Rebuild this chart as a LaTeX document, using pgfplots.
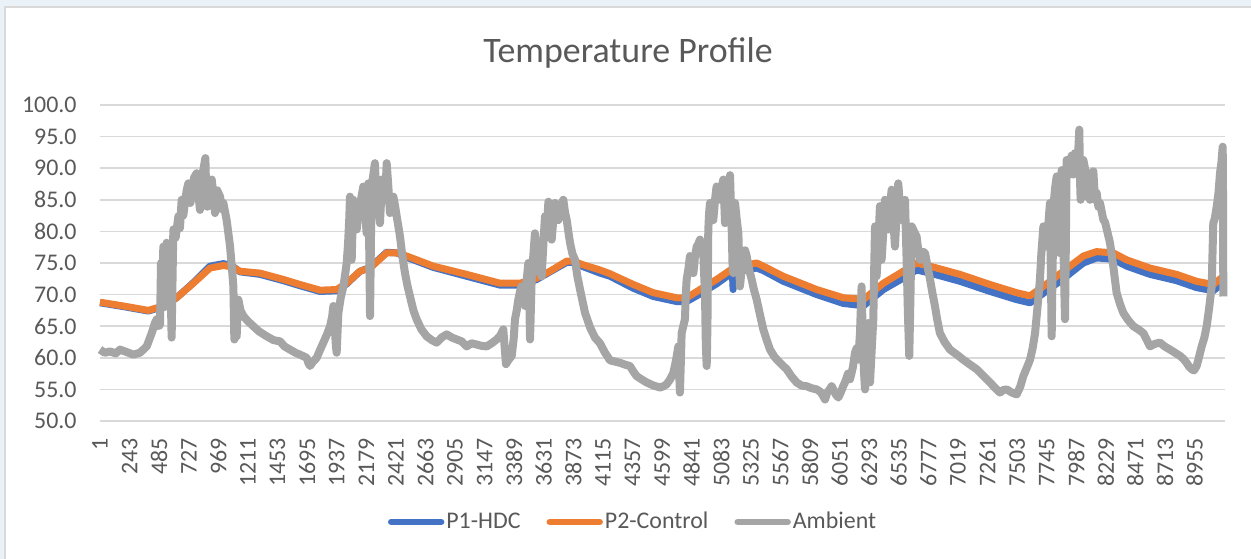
\documentclass[border=0pt]{standalone}
\usepackage{fontspec}
\setmainfont{Carlito}
\usepackage{pgfplots}
\pgfplotsset{compat=1.18}
\definecolor{hdc}{HTML}{4472C4}
\definecolor{ctl}{HTML}{ED7D31}
\definecolor{amb}{HTML}{A5A5A5}
\definecolor{txt}{HTML}{595959}
\definecolor{grd}{HTML}{D9D9D9}
\definecolor{slide}{HTML}{EAF1F7}
\begin{document}
\begin{tikzpicture}
\useasboundingbox (0,0) rectangle (625.5bp,279.5bp);
\clip (0,0) rectangle (625.5bp,279.5bp);
\fill[slide] (0,0) rectangle (625.5bp,279.5bp);
\filldraw[fill=white, draw=grd, line width=0.75bp] (2.5bp,-5bp) rectangle (630bp,276bp);
\node[font=\fontsize{18}{22}\selectfont, text=txt, anchor=base] at (314bp,248bp) {Temperature Profile};
\begin{axis}[
  at={(50bp,69bp)}, anchor=south west,
  scale only axis, width=562.5bp, height=158bp,
  xmin=1, xmax=9204, ymin=50, ymax=100,
  clip=false,
  xtick={1,243,...,8955},
  ytick={50,55,...,100},
  ymajorgrids, major grid style={grd, line width=0.75bp},
  axis line style={draw=none}, tick style={draw=none},
  /pgf/number format/assume math mode=true,
  tick label style={font=\fontsize{12}{14}\selectfont, text=txt},
  yticklabel style={/pgf/number format/.cd, fixed, fixed zerofill, precision=1, /tikz/.cd, inner sep=0pt, xshift=-11.5bp},
  xticklabel style={/pgf/number format/.cd, 1000 sep={}, /tikz/.cd, yshift=-8.5bp, rotate=90, anchor=east, inner sep=0pt},
  legend style={at={(0.4738,-0.3196)}, anchor=center, draw=none, fill=none,
    font=\fontsize{12}{14}\selectfont, text=txt,
    /tikz/every even column/.append style={column sep=12bp}, nodes={inner sep=1bp}},
  legend columns=3, legend cell align=left,
  legend image code/.code={\draw[#1, line cap=round, line width=3.2bp] (0bp,0bp) -- (25bp,0bp);},
  every axis plot/.append style={line join=round, line width=3.5bp},
]
\addplot[hdc] table {
x y
1 68.7
192 68.1
396 67.4
519 68.1
628 69.5
765 71.9
901 74.5
1010 74.9
1078 74.6
1146 73.6
1310 73.2
1501 72.2
1637 71.4
1801 70.5
1937 70.6
2019 71.7
2128 73.7
2210 74.3
2346 76.7
2428 76.6
2510 75.9
2728 74.3
3000 72.9
3273 71.5
3437 71.5
3573 72.4
3682 73.6
3819 75.1
3873 75.1
3955 74.4
4091 73.4
4173 72.9
4364 71.0
4527 69.7
4718 68.9
4800 68.9
4909 70.1
5045 71.7
5174 73.5
5180 70.8
5186 73.6
5291 73.9
5373 74.2
5427 73.8
5591 72.1
5864 70.0
6082 68.6
6218 68.3
6245 68.2
6409 70.8
6572 72.6
6681 73.9
6791 73.4
7036 72.1
7281 70.5
7500 69.2
7609 68.7
7718 70.2
7881 72.5
8045 75.0
8154 75.8
8290 75.6
8399 74.5
8590 73.2
8808 72.2
8972 71.1
9108 70.6
9190 71.9
};
\addlegendentry{P1-HDC}
\addplot[ctl] table {
x y
1 68.8
192 68.2
396 67.5
519 68.2
628 69.5
765 71.8
901 74.2
1010 74.6
1078 74.4
1146 73.7
1310 73.4
1501 72.4
1637 71.6
1801 70.7
1937 70.8
2019 71.8
2128 73.7
2210 74.2
2346 76.6
2428 76.6
2510 76.1
2728 74.5
3000 73.2
3273 71.8
3437 71.8
3573 72.6
3682 73.7
3819 75.3
3873 75.3
3955 74.7
4091 73.9
4173 73.3
4364 71.6
4527 70.3
4718 69.5
4800 69.5
4909 70.8
5045 72.4
5182 74.2
5291 74.7
5373 75.0
5427 74.5
5591 72.9
5864 70.8
6082 69.5
6218 69.3
6245 69.2
6409 71.8
6572 73.7
6681 75.0
6791 74.5
7036 73.2
7281 71.6
7500 70.3
7609 69.8
7718 71.3
7881 73.7
8045 76.1
8154 76.8
8290 76.6
8399 75.5
8590 74.2
8808 73.2
8972 72.1
9108 71.6
9190 72.9
};
\addlegendentry{P2-Control}
\addplot[amb, line width=4bp] table {
x y
1 61.3
40 60.8
83 61.0
130 60.7
165 61.3
220 60.9
274 60.5
328 60.8
383 61.8
424 63.9
450 65.5
465 66.1
480 65.0
492 65.2
500 75.0
510 70.0
519 77.6
526 68.0
533 71.3
540 75.5
546 78.2
560 74.0
574 76.1
580 70.0
587 63.2
594 72.0
601 80.3
620 79.0
642 82.4
655 80.5
669 85.0
682 82.5
696 84.5
710 86.5
724 87.6
740 84.5
751 85.5
770 88.5
792 89.2
805 86.0
819 83.4
832 88.5
846 89.7
863 91.6
870 86.0
879 83.9
895 87.5
915 88.2
930 85.5
942 82.9
960 86.5
983 85.5
1000 83.5
1010 84.5
1037 81.8
1065 77.6
1085 73.0
1092 71.3
1097 66.0
1100 62.9
1110 63.5
1119 63.4
1126 67.0
1133 69.2
1150 67.5
1174 66.6
1210 65.8
1255 65.0
1300 64.2
1365 63.4
1420 62.8
1474 62.6
1510 61.8
1555 61.3
1600 60.8
1637 60.5
1670 60.2
1692 60.0
1705 59.2
1719 58.7
1740 59.3
1774 60.0
1800 61.2
1828 62.4
1860 63.8
1883 65.0
1900 66.5
1910 68.2
1917 66.0
1924 64.0
1930 62.0
1937 60.8
1944 64.0
1951 67.1
1970 69.5
1992 71.3
2005 73.0
2019 75.0
2030 78.0
2040 82.0
2046 85.5
2053 79.0
2060 75.5
2066 80.0
2073 85.0
2087 82.0
2101 80.3
2114 83.0
2128 83.9
2140 85.5
2155 87.1
2170 83.0
2182 79.7
2190 84.0
2196 87.6
2203 78.0
2210 66.6
2217 78.0
2223 87.1
2237 89.0
2250 90.8
2257 87.0
2264 82.9
2278 84.0
2291 81.3
2298 84.0
2305 88.2
2318 87.0
2332 85.0
2340 88.0
2346 90.8
2360 87.0
2373 82.9
2387 84.0
2401 85.5
2415 84.0
2428 82.4
2440 81.0
2455 79.2
2475 76.0
2496 73.4
2515 71.5
2537 69.7
2565 67.5
2591 66.1
2630 64.5
2673 63.4
2715 62.8
2755 62.4
2795 63.2
2837 63.7
2880 63.2
2919 62.9
2960 62.6
3000 61.8
3040 62.3
3082 62.1
3120 61.9
3164 61.8
3205 62.3
3246 62.9
3275 63.5
3300 64.5
3310 62.0
3322 59.0
3340 59.6
3369 60.3
3385 63.0
3396 66.1
3410 67.5
3423 69.2
3437 70.5
3450 71.3
3465 70.0
3478 68.2
3490 72.0
3505 75.0
3512 70.0
3519 62.9
3526 68.0
3532 72.4
3545 76.0
3559 79.7
3573 77.0
3587 75.0
3600 73.5
3614 72.9
3628 78.0
3641 82.4
3655 80.0
3669 84.7
3682 80.0
3696 78.7
3710 82.0
3723 84.5
3737 82.0
3750 81.8
3770 84.0
3791 85.0
3805 83.0
3819 81.8
3832 80.0
3846 78.2
3865 76.5
3887 75.5
3905 73.0
3928 70.8
3950 68.8
3969 67.1
4010 64.8
4050 63.2
4091 62.3
4132 60.8
4173 59.6
4215 59.4
4255 59.2
4300 58.9
4336 58.7
4365 57.8
4391 57.1
4430 56.6
4473 56.1
4530 55.6
4582 55.3
4610 55.5
4636 55.8
4665 56.6
4691 57.6
4712 59.5
4732 61.8
4738 58.0
4745 54.5
4752 59.0
4759 63.9
4772 65.0
4786 66.1
4793 70.0
4800 72.4
4814 74.0
4827 76.1
4840 74.5
4855 73.4
4868 76.0
4882 77.6
4895 78.0
4909 78.7
4922 77.5
4936 76.6
4950 70.0
4957 62.0
4964 58.7
4970 65.0
4977 80.3
4984 83.0
4991 84.5
5004 82.0
5018 81.8
5032 85.0
5045 87.1
5059 86.0
5073 85.0
5086 87.0
5100 88.2
5107 85.0
5114 81.3
5127 84.0
5141 85.5
5148 87.5
5155 88.9
5162 84.0
5168 80.8
5175 75.0
5182 73.4
5189 79.0
5196 84.5
5209 82.0
5223 79.7
5230 75.0
5236 71.3
5250 74.0
5264 76.6
5278 77.0
5291 76.1
5310 74.0
5332 72.4
5350 70.8
5373 69.2
5400 66.8
5427 64.5
5455 62.8
5482 61.3
5520 60.1
5564 59.2
5590 58.7
5618 58.2
5660 57.0
5700 56.1
5740 55.6
5782 55.5
5820 55.2
5864 55.0
5895 54.6
5915 54.0
5932 53.4
5950 54.5
5970 55.0
5986 55.5
6005 54.8
6020 54.2
6041 53.7
6060 54.5
6080 55.5
6095 56.1
6120 57.5
6136 56.6
6160 58.5
6177 60.8
6190 61.5
6204 59.7
6218 64.0
6231 71.3
6240 64.0
6250 58.0
6259 55.0
6272 60.0
6286 65.5
6293 60.0
6300 56.1
6313 61.0
6327 66.1
6334 74.0
6341 80.8
6348 76.0
6354 72.9
6368 78.0
6381 84.0
6388 80.0
6395 75.5
6409 80.0
6422 85.0
6436 83.0
6450 80.3
6463 84.0
6477 86.6
6490 82.0
6504 77.6
6518 83.0
6531 87.6
6545 84.0
6559 81.8
6572 83.0
6586 85.0
6593 80.0
6600 75.0
6610 67.0
6621 60.3
6631 70.0
6641 80.8
6660 80.0
6681 79.2
6695 77.0
6709 75.5
6730 76.8
6750 76.6
6770 74.5
6791 72.4
6810 70.3
6831 68.2
6850 66.0
6872 63.9
6910 62.5
6954 61.3
7010 60.5
7063 59.7
7120 58.9
7172 58.2
7230 57.1
7281 56.1
7320 55.3
7363 54.5
7390 54.9
7418 55.0
7460 54.5
7500 54.2
7530 55.5
7554 57.1
7580 58.3
7609 59.7
7630 61.5
7650 63.9
7670 68.0
7690 72.4
7700 76.0
7718 80.8
7730 79.0
7745 77.6
7758 81.0
7772 84.5
7779 74.0
7786 63.4
7793 74.0
7805 85.0
7815 87.0
7827 88.7
7838 82.0
7848 76.6
7858 84.0
7868 89.7
7880 80.0
7888 72.0
7895 66.1
7902 78.0
7908 91.3
7922 91.3
7935 89.0
7949 92.0
7963 89.0
7977 92.4
7990 90.3
8004 93.0
8012 96.1
8018 88.0
8023 85.0
8035 88.5
8045 91.3
8058 90.0
8072 85.5
8085 87.5
8099 85.0
8113 89.2
8127 89.5
8140 85.0
8154 86.1
8168 83.9
8181 84.5
8209 81.8
8222 81.5
8263 78.2
8290 74.5
8317 70.3
8345 68.5
8372 67.1
8410 66.0
8454 65.0
8495 64.5
8536 63.9
8565 62.8
8590 61.8
8630 62.2
8672 62.4
8710 61.8
8754 61.3
8795 60.8
8836 60.3
8865 59.8
8890 59.2
8910 58.6
8931 58.2
8950 58.0
8972 58.7
8990 60.0
9013 61.8
9035 63.2
9054 65.0
9075 68.0
9095 71.3
9101 76.0
9108 81.3
9120 82.0
9136 83.9
9150 86.0
9163 89.2
9175 91.0
9185 93.4
9188 85.0
9190 69.7
};
\addlegendentry{Ambient}
\end{axis}
\end{tikzpicture}
\end{document}
